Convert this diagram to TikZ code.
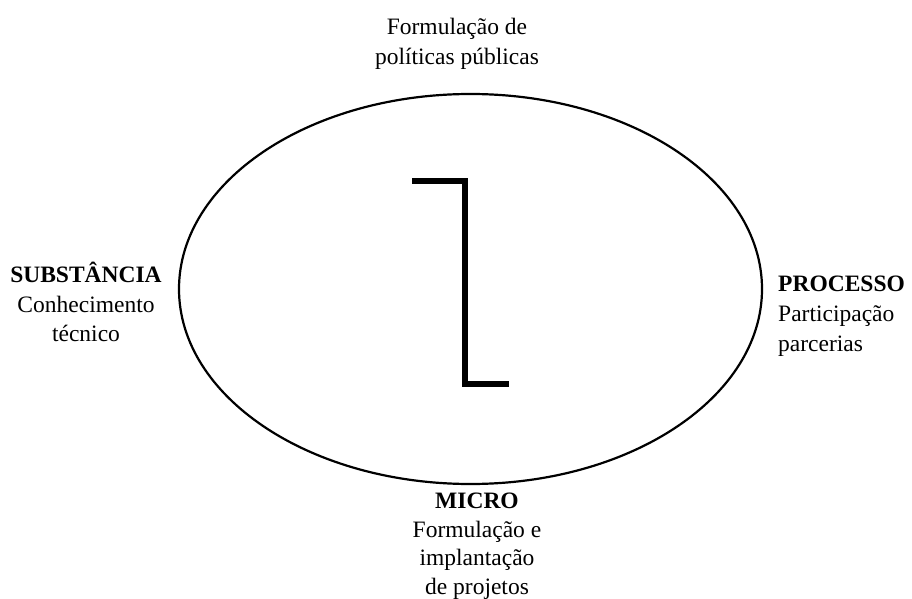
\documentclass[tikz,border=0pt]{standalone}
\usepackage{fontspec}
\setmainfont{Liberation Serif}
\begin{document}
\begin{tikzpicture}[x=1pt,y=-1pt,
  label/.style={inner sep=0pt, align=center, font=\fontsize{23.5}{29.5}\selectfont},
  leftlabel/.style={inner sep=0pt, align=left, font=\fontsize{23.5}{30}\selectfont},
  rim/.style={line width=2.2pt},
  bar/.style={line width=5.5pt, miter limit=10}]
  \useasboundingbox (0,0) rectangle (912,599);

  % the central ellipse
  \draw[rim] (470.5,289) ellipse [x radius=291.5, y radius=195];

  % the step bar inside
  \coordinate (b1) at (412,181);
  \coordinate (b2) at (465,181);
  \coordinate (b3) at (465,384);
  \coordinate (b4) at (509,384);
  \draw[bar] (b1) -- (b2) -- (b3) -- (b4);

  % labels around the ellipse
  \node[label, anchor=north] (top) at (457,18)
    {Formulação de\\políticas públicas};
  \node[label, anchor=north] (left) at (86,262)
    {\textbf{SUBSTÂNCIA}\\Conhecimento\\técnico};
  \node[leftlabel, anchor=north west] (right) at (778,276)
    {\textbf{PROCESSO}\\Participação\\parcerias};
  \node[label, anchor=north, font=\fontsize{23.5}{28.5}\selectfont] (bottom) at (477,493)
    {\textbf{MICRO}\\Formulação e\\implantação\\de projetos};
\end{tikzpicture}
\end{document}
